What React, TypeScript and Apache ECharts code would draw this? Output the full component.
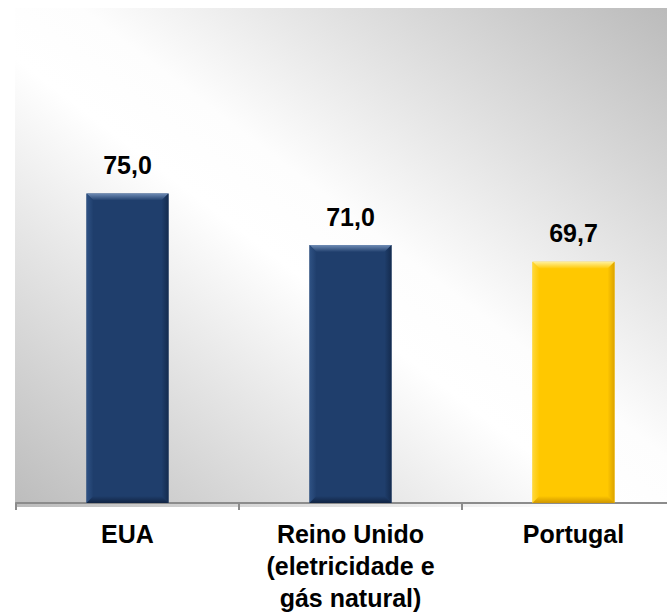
import React, { useEffect, useRef } from 'react';
import * as echarts from 'echarts';

const categories = ['EUA', 'Reino Unido\n(eletricidade e\ngás natural)', 'Portugal'];
const values = [75.0, 71.0, 69.7];
const barKinds = ['navy', 'navy', 'gold'];

const palette: Record<string, { body: string; top: string; left: string; right: string; bottom: string }> = {
  navy: { body: '#1f3e6c', top: '#6f8cb5', left: '#2f5284', right: '#142b4e', bottom: '#112443' },
  gold: { body: '#ffc800', top: '#fff09a', left: '#ffd83a', right: '#dca300', bottom: '#cf9600' },
};

const AXIS_MIN = 51;
const AXIS_MAX = 80;
const BAR_W = 82;
const BEVEL = 7;

export default function App() {
  const ref = useRef<HTMLDivElement>(null);
  useEffect(() => {
    if (!ref.current) return;
    const chart = echarts.init(ref.current, null, { renderer: 'svg' });
    const font = '"Liberation Sans", Arial, sans-serif';
    const option: any = {
      animation: false,
      backgroundColor: '#ffffff',
      graphic: [
        {
          type: 'rect',
          z: 0,
          shape: { x: 15, y: 8, width: 652, height: 499 },
          style: {
            fill: new echarts.graphic.LinearGradient(0, 1, 1, 0, [
              { offset: 0, color: '#bcbcbc' },
              { offset: 0.45, color: '#ffffff' },
              { offset: 0.55, color: '#fdfdfd' },
              { offset: 1, color: '#bbbbbb' },
            ]),
          },
        },
      ],
      grid: { left: 16, top: 129, width: 669, height: 378 },
      xAxis: {
        type: 'category',
        data: categories,
        boundaryGap: true,
        axisLine: { show: true, lineStyle: { color: '#8c8c8c', width: 2 } },
        axisTick: { show: true, length: 7, lineStyle: { color: '#8c8c8c', width: 2 } },
        axisLabel: {
          color: '#000',
          fontSize: 25,
          fontWeight: 'bold',
          fontFamily: font,
          lineHeight: 32,
          margin: 15,
          interval: 0,
        },
      },
      yAxis: {
        type: 'value',
        min: AXIS_MIN,
        max: AXIS_MAX,
        show: false,
        splitLine: { show: false },
      },
      series: [
        {
          type: 'bar',
          barWidth: BAR_W,
          z: 2,
          data: values.map((v, i) => ({ value: v, itemStyle: { color: palette[barKinds[i]].body } })),
          label: {
            show: true,
            position: 'top',
            distance: 16,
            color: '#000',
            fontSize: 25,
            fontWeight: 'bold',
            fontFamily: font,
            formatter: (p: any) => p.value.toFixed(1).replace('.', ','),
          },
        },
        {
          type: 'custom',
          z: 3,
          silent: true,
          data: values.map((v, i) => [i, v]),
          encode: { x: 0, y: 1 },
          renderItem: (params: any, api: any) => {
            const idx = api.value(0);
            const v = api.value(1);
            const pt = api.coord([idx, v]);
            const pb = api.coord([idx, AXIS_MIN]);
            const c = palette[barKinds[idx]];
            const x = pt[0] - BAR_W / 2;
            const w = BAR_W;
            const y = pt[1];
            const yb = pb[1];
            const b = BEVEL;
            return {
              type: 'group',
              children: [
                {
                  type: 'polygon',
                  shape: { points: [[x, y], [x + w, y], [x + w - b, y + b], [x + b, y + b]] },
                  style: {
                    fill: new echarts.graphic.LinearGradient(0, 0, 0, 1, [
                      { offset: 0, color: c.top },
                      { offset: 1, color: c.body },
                    ]),
                  },
                },
                {
                  type: 'polygon',
                  shape: { points: [[x, y], [x + b, y + b], [x + b, yb - b], [x, yb]] },
                  style: {
                    fill: new echarts.graphic.LinearGradient(0, 0, 1, 0, [
                      { offset: 0, color: c.left },
                      { offset: 1, color: c.body },
                    ]),
                  },
                },
                {
                  type: 'polygon',
                  shape: { points: [[x + w, y], [x + w, yb], [x + w - b, yb - b], [x + w - b, y + b]] },
                  style: {
                    fill: new echarts.graphic.LinearGradient(1, 0, 0, 0, [
                      { offset: 0, color: c.right },
                      { offset: 1, color: c.body },
                    ]),
                  },
                },
                {
                  type: 'polygon',
                  shape: { points: [[x, yb], [x + b, yb - b], [x + w - b, yb - b], [x + w, yb]] },
                  style: {
                    fill: new echarts.graphic.LinearGradient(0, 1, 0, 0, [
                      { offset: 0, color: c.bottom },
                      { offset: 1, color: c.body },
                    ]),
                  },
                },
              ],
            };
          },
        },
      ],
    };
    chart.setOption(option);
    return () => chart.dispose();
  }, []);
  return (
    <div style={{ position: 'absolute', left: 0, top: 0, width: 667, height: 614, overflow: 'hidden' }}>
      <div ref={ref} style={{ width: 700, height: 614 }} />
    </div>
  );
}
